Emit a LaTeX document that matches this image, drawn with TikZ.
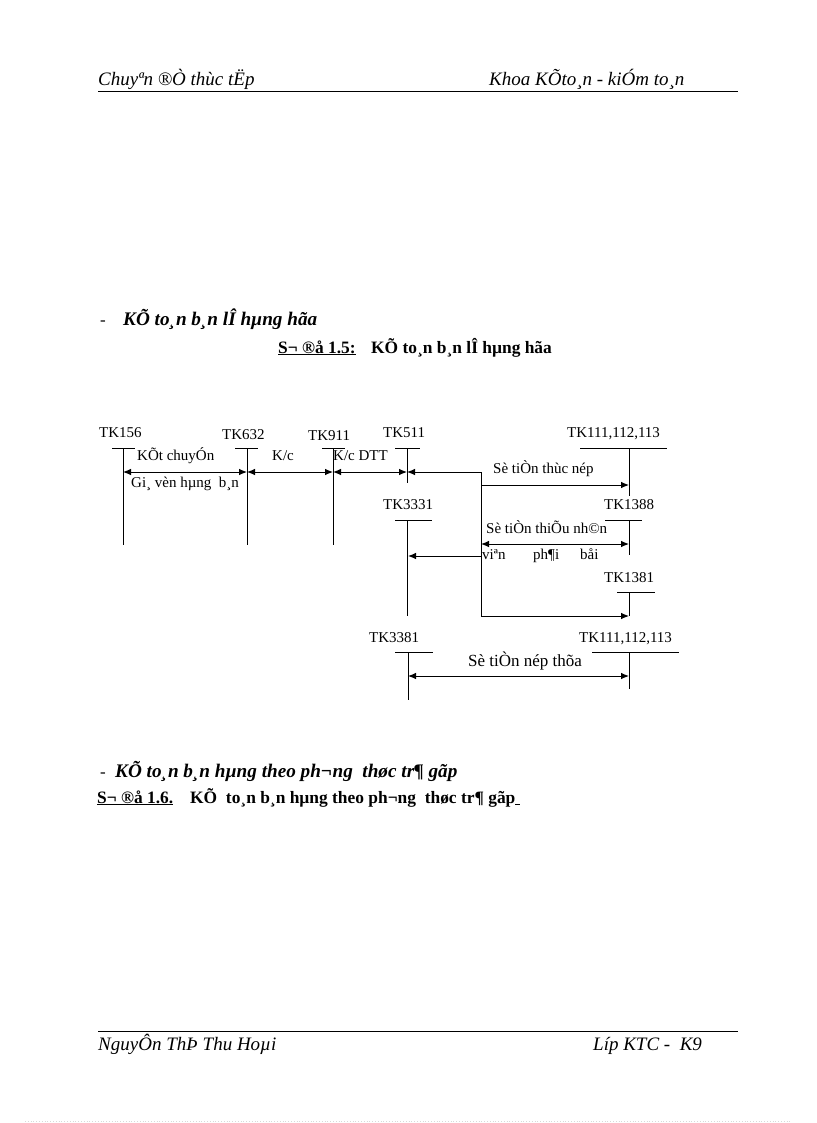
\documentclass[tikz,border=0pt]{standalone}
\usepackage{fontspec}
\setmainfont{Liberation Serif}
\usetikzlibrary{arrows.meta}
\begin{document}
\begin{tikzpicture}[x=1pt,y=-1pt,
  txt/.style={inner sep=0pt, anchor=base west},
  lbl/.style={txt, font=\fontsize{15}{17}\selectfont},
  biglbl/.style={txt, font=\fontsize{17}{19}\selectfont},
  hdr/.style={txt, font=\fontsize{19}{21}\selectfont\itshape},
  headtxt/.style={txt, font=\fontsize{19.2}{21}\selectfont\bfseries\itshape},
  captxt/.style={txt, font=\fontsize{17.4}{19}\selectfont\bfseries},
  dashtxt/.style={txt, font=\fontsize{17}{19}\selectfont},
  acct/.style={line width=0.9pt},
  hrule/.style={line width=0.8pt},
  conn/.style={line width=0.9pt},
  arr/.style={conn,-{Latex[length=8pt,width=6.5pt]}},
  darr/.style={conn,{Latex[length=8pt,width=6.5pt]}-{Latex[length=8pt,width=6.5pt]}}
  ]
\useasboundingbox (0,0) rectangle (816,1123);

% ---------- header ----------
\node[hdr] (hl) at (98,86) {Chuyªn ®Ò thùc tËp};
\node[hdr] (hr) at (489,86) {Khoa KÕto¸n - kiÓm to¸n};
\coordinate (hrl) at (98,91);
\coordinate (hrr) at (738,91);
\draw[hrule] (hrl) -- (hrr);

% ---------- heading 1 ----------
\node[dashtxt] (d1) at (100,325) {-};
\node[headtxt] (t1) at (123,325) {KÕ to¸n b¸n lÎ hµng hãa};
\node[captxt] (c1a) at (278,353) {\underline{S¬ ®å 1.5:}};
\node[captxt] (c1b) at (371,353) {KÕ\ to¸n b¸n lÎ hµng hãa};

% ---------- T accounts ----------
% TK156
\coordinate (b156l) at (112,448); \coordinate (b156r) at (135,448);
\coordinate (v156t) at (123,448); \coordinate (v156b) at (123,545);
\draw[acct] (b156l) -- (b156r); \draw[acct] (v156t) -- (v156b);
\node[lbl] (l156) at (99,437) {TK156};
% TK632
\coordinate (b632l) at (235,448); \coordinate (b632r) at (258,448);
\coordinate (v632t) at (247,448); \coordinate (v632b) at (247,545);
\draw[acct] (b632l) -- (b632r); \draw[acct] (v632t) -- (v632b);
\node[lbl] (l632) at (222,439) {TK632};
% TK911
\coordinate (b911l) at (322,448); \coordinate (b911r) at (345,448);
\coordinate (v911t) at (333,448); \coordinate (v911b) at (333,545);
\draw[acct] (b911l) -- (b911r); \draw[acct] (v911t) -- (v911b);
\node[lbl] (l911) at (308,440) {TK911};
% TK511
\coordinate (b511l) at (395,448); \coordinate (b511r) at (420,448);
\coordinate (v511t) at (407,448); \coordinate (v511b) at (407,483);
\draw[acct] (b511l) -- (b511r); \draw[acct] (v511t) -- (v511b);
\node[lbl] (l511) at (383,437) {TK511};
% TK111 (top)
\coordinate (b111l) at (580,448); \coordinate (b111r) at (667,448);
\coordinate (v111t) at (629,448); \coordinate (v111b) at (629,496);
\draw[acct] (b111l) -- (b111r); \draw[acct] (v111t) -- (v111b);
\node[lbl] (l111) at (567,437) {TK111,112,113};
% TK3331
\coordinate (b3331l) at (395,520); \coordinate (b3331r) at (432,520);
\coordinate (v3331t) at (407,520); \coordinate (v3331b) at (407,616);
\draw[acct] (b3331l) -- (b3331r); \draw[acct] (v3331t) -- (v3331b);
\node[lbl] (l3331) at (383,509) {TK3331};
% TK1388
\coordinate (b1388l) at (605,520); \coordinate (b1388r) at (642,520);
\coordinate (v1388t) at (629,520); \coordinate (v1388b) at (629,555);
\draw[acct] (b1388l) -- (b1388r); \draw[acct] (v1388t) -- (v1388b);
\node[lbl] (l1388) at (604,509) {TK1388};
% TK1381
\coordinate (b1381l) at (617,592); \coordinate (b1381r) at (655,592);
\coordinate (v1381t) at (629,592); \coordinate (v1381b) at (629,616);
\draw[acct] (b1381l) -- (b1381r); \draw[acct] (v1381t) -- (v1381b);
\node[lbl] (l1381) at (604,582) {TK1381};
% TK3381
\coordinate (b3381l) at (395,652); \coordinate (b3381r) at (433,652);
\coordinate (v3381t) at (408,652); \coordinate (v3381b) at (408,700);
\draw[acct] (b3381l) -- (b3381r); \draw[acct] (v3381t) -- (v3381b);
\node[lbl] (l3381) at (369,642) {TK3381};
% TK111 (bottom)
\coordinate (b111bl) at (592,652); \coordinate (b111br) at (679,652);
\coordinate (v111bt) at (629,652); \coordinate (v111bb) at (629,689);
\draw[acct] (b111bl) -- (b111br); \draw[acct] (v111bt) -- (v111bb);
\node[lbl] (l111b) at (579,642) {TK111,112,113};

% ---------- connectors ----------
\coordinate (a156) at (123,472); \coordinate (a632) at (247,472);
\coordinate (a911) at (333,472); \coordinate (a511) at (407,472);
\draw[darr] (a156) -- (a632);
\draw[darr] (a632) -- (a911);
\draw[darr] (a911) -- (a511);
\node[lbl] (k1) at (137,460) {KÕt chuyÓn};
\node[lbl] (k2) at (131,487) {Gi¸ vèn hµng\ \ b¸n};
\node[lbl] (k3) at (272,460) {K/c};
\node[lbl] (k4) at (333,460) {K/c DTT};

\coordinate (j1) at (481,472);
\coordinate (j2) at (481,485);
\coordinate (j3) at (481,544);
\coordinate (j4) at (481,556);
\coordinate (j5) at (481,616);
\draw[conn] (j1) -- (j5);
\draw[arr] (j1) -- (a511);
\coordinate (e111) at (629,485);
\draw[arr] (j2) -- (e111);
\node[lbl] (s1) at (493,473) {Sè tiÒn thùc nép};
\coordinate (e1388) at (629,544);
\draw[darr] (j3) -- (e1388);
\node[lbl] (s2) at (486,533) {Sè tiÒn thiÕu nh©n};
\coordinate (e3331) at (408,556);
\draw[arr] (j4) -- (e3331);
\node[lbl] (s3) at (482,559) {viªn};
\node[lbl] (s4) at (533,559) {ph¶i};
\node[lbl] (s5) at (580,559) {båi};
\coordinate (e1381) at (629,616);
\draw[arr] (j5) -- (e1381);
\coordinate (f3381) at (408,676);
\coordinate (f111) at (629,676);
\draw[darr] (f3381) -- (f111);
\node[biglbl] (s6) at (468,666) {Sè tiÒn nép thõa};

% ---------- heading 2 ----------
\node[dashtxt] (d2) at (100,777) {-};
\node[headtxt] (t2) at (115,777) {KÕ to¸n b¸n hµng theo ph¬ng\ \ thøc tr¶ gãp};
\node[captxt] (c2a) at (97,803) {\underline{S¬ ®å 1.6.}};
\node[captxt] (c2b) at (190,803) {KÕ\ \ to¸n b¸n hµng theo ph¬ng\ \ thøc tr¶ gãp\underline{\ }};

% ---------- footer ----------
\coordinate (frl) at (98,1031);
\coordinate (frr) at (738,1031);
\draw[hrule] (frl) -- (frr);
\node[hdr] (fl) at (98,1050) {NguyÔn ThÞ Thu Hoµi};
\node[hdr] (fr) at (593,1050) {Líp KTC -\ \ K9};

% faint dotted edge
\coordinate (el) at (25,1121);
\coordinate (er) at (792,1121);
\draw[black!15, dotted, line width=0.8pt] (el) -- (er);
\end{tikzpicture}
\end{document}
